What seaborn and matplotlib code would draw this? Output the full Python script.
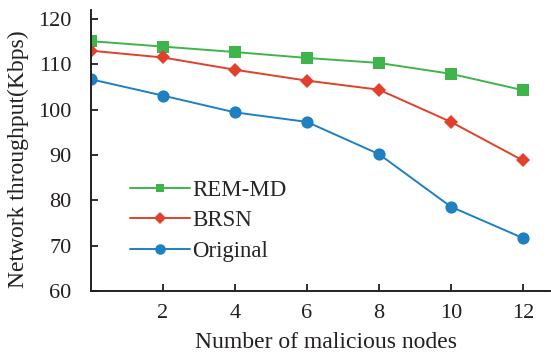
import pandas as pd
import matplotlib
matplotlib.use('Agg')
import matplotlib.pyplot as plt
import seaborn as sns

# data
malicious_nodes = [0, 2, 4, 6, 8, 10, 12]
rem_md = [115.1, 113.9, 112.7, 111.4, 110.3, 107.9, 104.3]
brsn = [113.0, 111.5, 108.8, 106.4, 104.4, 97.3, 88.8]
original = [106.7, 103.1, 99.4, 97.3, 90.2, 78.6, 71.7]
series_names = ['REM-MD', 'BRSN', 'Original']
x_ticks = [2, 4, 6, 8, 10, 12]
y_ticks = [60, 70, 80, 90, 100, 110, 120]

rows = []
for name, vals in zip(series_names, [rem_md, brsn, original]):
    for x, v in zip(malicious_nodes, vals):
        rows.append({'Nodes': x, 'Throughput': v, 'Method': name})
data = pd.DataFrame(rows)

sns.set_style("ticks")
plt.rcParams['font.family'] = ['Liberation Serif', 'DejaVu Serif']
plt.rcParams['xtick.direction'] = 'in'
plt.rcParams['ytick.direction'] = 'in'

text_color = '#231f20'
fig = plt.figure(figsize=(5.51, 3.52), dpi=100)
ax = fig.add_axes([0.165, 0.173, 0.833, 0.799])

palette = {'REM-MD': '#3db54a', 'BRSN': '#e1402a', 'Original': '#1e80c1'}
markers = {'REM-MD': 's', 'BRSN': 'D', 'Original': 'o'}
sizes = {'REM-MD': 8, 'BRSN': 7.4, 'Original': 8.8}
leg_sizes = {'REM-MD': 6.2, 'BRSN': 6.5, 'Original': 7.6}

for name in series_names:
    sub = data[data['Method'] == name]
    sns.lineplot(data=sub, x='Nodes', y='Throughput', ax=ax, color=palette[name],
                 marker=markers[name], markersize=sizes[name], markeredgewidth=0,
                 linewidth=1.4, label=name)

ax.set_xlim(0, 12.75)
ax.set_ylim(60, 122)
ax.set_xticks(x_ticks)
ax.set_yticks(y_ticks)
ax.tick_params(labelsize=16, width=1.3, length=5, colors=text_color)
ax.tick_params(axis='y', pad=14)
ax.tick_params(axis='x', pad=9)
ax.spines['top'].set_visible(False)
ax.spines['right'].set_visible(False)
for s in ['left', 'bottom']:
    ax.spines[s].set_linewidth(1.4)
    ax.spines[s].set_color(text_color)

ax.set_xlabel('Number of malicious nodes', fontsize=17, color=text_color)
ax.set_ylabel('Network throughput(Kbps)', fontsize=17, color=text_color)
ax.xaxis.set_label_coords(0.512, -0.145)
ax.yaxis.set_label_coords(-0.135, 0.468)

leg = ax.legend(loc='lower left', bbox_to_anchor=(0.085, 0.104), frameon=False, fontsize=16.5,
                handlelength=2.6, handletextpad=0.1, labelspacing=0.42, borderaxespad=0,
                borderpad=0)
for line, name in zip(leg.get_lines(), series_names):
    line.set_markersize(leg_sizes[name])

fig.savefig('out.png', dpi=100)
